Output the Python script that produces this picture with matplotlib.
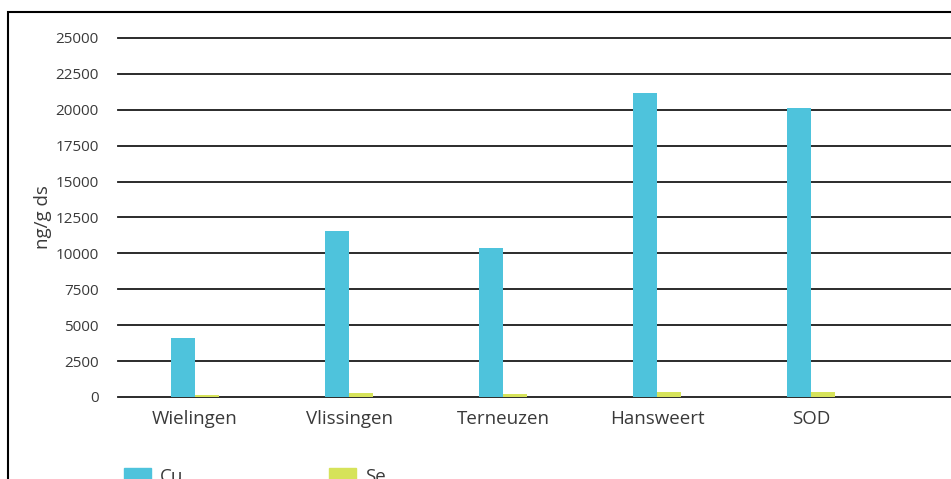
import matplotlib
matplotlib.use("Agg")
import matplotlib.pyplot as plt
from matplotlib.patches import Rectangle, Patch
import numpy as np

categories = ["Wielingen", "Vlissingen", "Terneuzen", "Hansweert", "SOD"]
cu_values = [4100, 11550, 10350, 21150, 20150]
se_values = [150, 300, 200, 350, 350]
y_ticks = [0, 2500, 5000, 7500, 10000, 12500, 15000, 17500, 20000, 22500, 25000]

plt.rcParams['font.family'] = ['Open Sans', 'DejaVu Sans']

W, H = 951, 479
fig = plt.figure(figsize=(W / 100, H / 100), dpi=100)

ax_left, ax_bottom = 118, 397
ax_top = 38
ax = fig.add_axes([ax_left / W, (H - ax_bottom) / H, (W - ax_left) / W, (ax_bottom - ax_top) / H])

x = np.arange(len(categories))
bw = 0.156
cu_color = "#4EC3DC"
se_color = "#D6E35A"
txt = "#3a3a3a"
ax.bar(x - bw / 2, cu_values, width=bw, color=cu_color, zorder=3, label="Cu")
ax.bar(x + bw / 2, se_values, width=bw, color=se_color, zorder=3, label="Se")

ax.set_ylim(0, 25000)
ax.set_xlim(-0.5, -0.5 + (W - ax_left) / 154)
ax.set_yticks(y_ticks)
ax.set_yticklabels([str(v) for v in y_ticks], fontsize=11, color=txt)
ax.set_xticks(x)
ax.set_xticklabels(categories, fontsize=13.5, color=txt)
ax.tick_params(axis='both', length=0)
ax.tick_params(axis='y', pad=14)
ax.tick_params(axis='x', pad=9)
ax.grid(axis='y', color="#1a1a1a", linewidth=1.3, zorder=0)
for gl in ax.get_ygridlines():
    gl.set_clip_on(False)
for s in ax.spines.values():
    s.set_visible(False)
ax.set_ylabel("ng/g ds", fontsize=13.5, color=txt, labelpad=2)

# outer frame
fig.patches.append(Rectangle((8 / W, -0.5), 2, 0.5 + (H - 12) / H, transform=fig.transFigure,
                             fill=False, edgecolor="black", linewidth=1.5, zorder=10))

handles = [Patch(color=cu_color, label="Cu"), Patch(color=se_color, label="Se")]
fig.legend(handles=handles, loc="upper left", bbox_to_anchor=(107 / W, 1 - 451 / H),
           ncol=2, frameon=False, fontsize=13.5, handlelength=1.45, handleheight=0.8,
           columnspacing=7.8, handletextpad=0.45, labelcolor=txt)

fig.savefig("out.png", dpi=100)
